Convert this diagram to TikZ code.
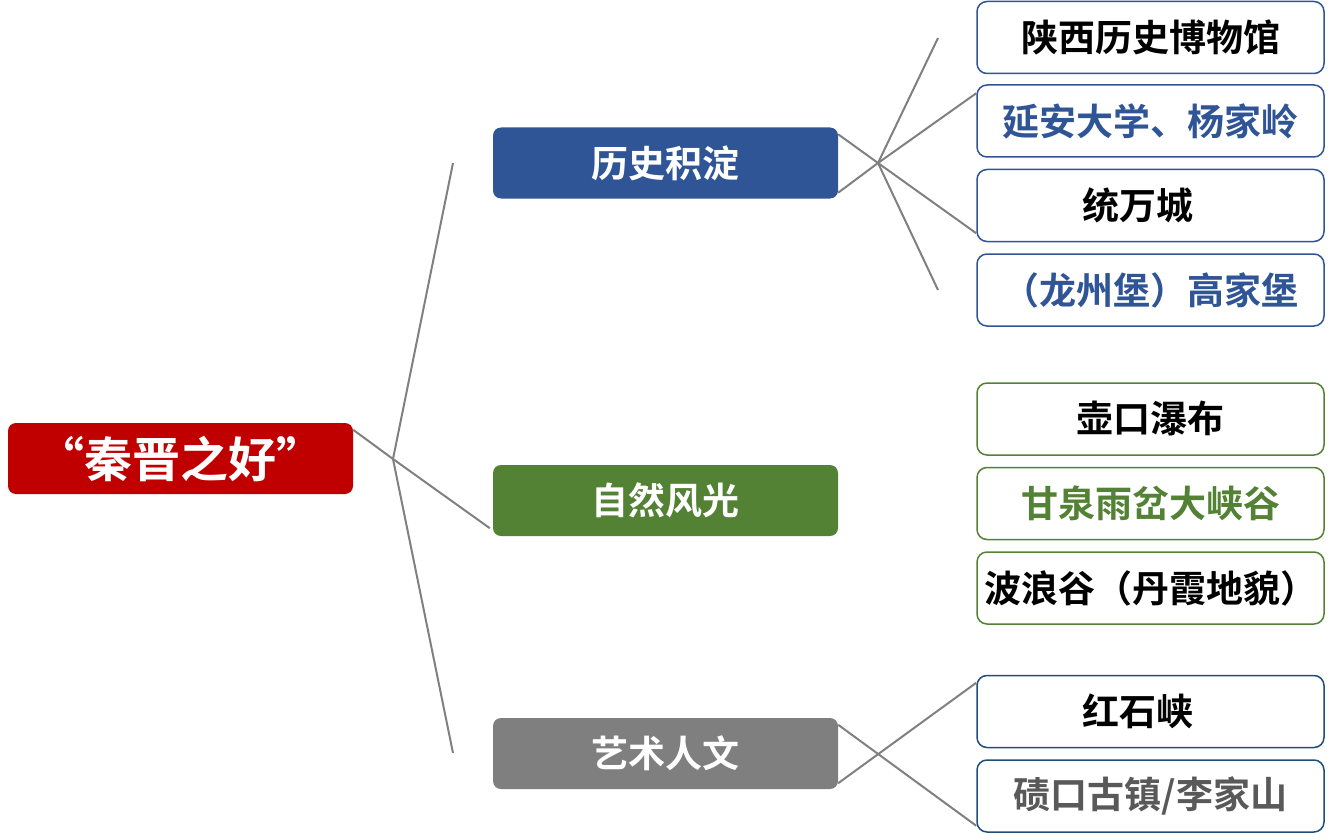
\documentclass[tikz,border=0pt]{standalone}
\usepackage{fontspec}
\setmainfont{Noto Sans CJK SC}[BoldFont={Noto Sans CJK SC Bold}]
\usetikzlibrary{calc}
\definecolor{rootred}{HTML}{C00000}
\definecolor{hblue}{HTML}{2F5597}
\definecolor{ngreen}{HTML}{548235}
\definecolor{agray}{HTML}{7F7F7F}
\definecolor{dblue}{HTML}{1F4E79}
\definecolor{linegray}{HTML}{808080}
\definecolor{txtgray}{HTML}{595959}
\begin{document}
\begin{tikzpicture}[x=1pt,y=-1pt,
  rootbox/.style={fill=rootred, rounded corners=8pt, minimum width=345pt, minimum height=71pt, inner sep=0pt, text=white, font=\bfseries\fontsize{48}{52}\selectfont},
  catbox/.style={rounded corners=8pt, minimum width=345pt, minimum height=71pt, inner sep=0pt, text=white, font=\bfseries\fontsize{37}{40}\selectfont},
  leafbox/.style={draw, line width=1.5pt, rounded corners=10pt, fill=white, minimum width=347pt, minimum height=72pt, inner sep=0pt, font=\bfseries\fontsize{37}{40}\selectfont},
  conn/.style={draw=linegray, line width=2pt}]
\useasboundingbox (0,0) rectangle (1342,840);

% nodes
\node[rootbox] (root) at (180.5,458.5) {“秦晋之好”};
\node[catbox, fill=hblue] (c1) at (665.5,163) {历史积淀};
\node[catbox, fill=ngreen] (c2) at (665.5,500.5) {自然风光};
\node[catbox, fill=agray] (c3) at (665.5,753.5) {艺术人文};

% connector junctions and free ends
\coordinate (j0) at (393,459);
\coordinate (f0a) at (453,163);
\coordinate (f0b) at (453,753);
\coordinate (j1) at (878,163);
\coordinate (f1a) at (938,38);
\coordinate (f1b) at (938,290);

\node[leafbox, draw=hblue] (l1) at (1150.5,37.5) {陕西历史博物馆};
\node[leafbox, draw=hblue, text=hblue] (l2) at (1150.5,121) {延安大学、杨家岭};
\node[leafbox, draw=hblue] (l3) at (1150.5,205.5) {统万城\hspace*{25pt}};
\node[leafbox, draw=hblue, text=hblue] (l4) at (1150.5,290) {（龙州堡）高家堡};
\node[leafbox, draw=ngreen] (n1) at (1150.5,419) {壶口瀑布};
\node[leafbox, draw=ngreen, text=ngreen] (n2) at (1150.5,503.5) {甘泉雨岔大峡谷};
\node[leafbox, draw=ngreen] (n3) at (1150.5,588) {波浪谷（丹霞地貌）};
\node[leafbox, draw=dblue] (a1) at (1150.5,711.5) {红石峡\hspace*{25pt}};
\node[leafbox, draw=dblue, text=txtgray] (a2) at (1150.5,796) {碛口古镇/李家山};

\draw[conn] ($(root.north east)+(0,7)$) -- (j0) -- ($(c2.south west)+(-3,-8)$);
\draw[conn] (j0) -- (f0a);
\draw[conn] (j0) -- (f0b);

\draw[conn] ($(c1.north east)+(0,7)$) -- (j1) -- ($(l3.south west)+(0,-9)$);
\draw[conn] ($(c1.south east)+(0,-6)$) -- (j1) -- ($(l2.north west)+(0,9)$);
\draw[conn] (j1) -- (f1a);
\draw[conn] (j1) -- (f1b);

\draw[conn] ($(c3.north east)+(0,7)$) -- ($(a2.south west)+(-0,-7)$);
\draw[conn] ($(c3.south east)+(0,-6)$) -- ($(a1.north west)+(0,8)$);
\end{tikzpicture}
\end{document}
